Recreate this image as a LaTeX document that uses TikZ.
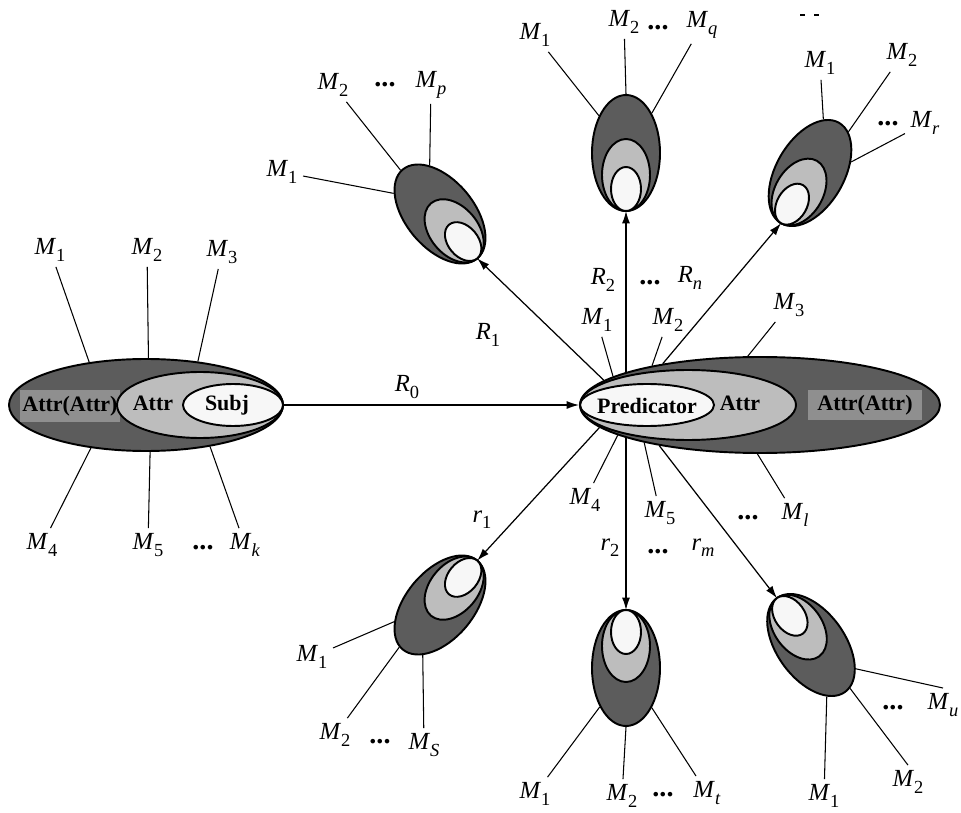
\documentclass[tikz,border=0pt]{standalone}
\usepackage{fontspec}
\setmainfont{Liberation Serif}
\usetikzlibrary{shapes,arrows.meta,positioning,calc}

\definecolor{shelldark}{gray}{0.36}
\definecolor{shelllight}{gray}{0.74}
\definecolor{shellcore}{gray}{0.97}
\definecolor{tagbox}{gray}{0.56}

\newcommand{\sublab}[2]{\textit{#1}\raisebox{-0.26em}{\fontsize{10.5}{12}\selectfont #2}}

\begin{document}
\begin{tikzpicture}[
    dark shell/.style={ellipse, draw, line width=1.1pt, fill=shelldark, inner sep=0pt},
    light shell/.style={ellipse, draw, line width=1.1pt, fill=shelllight, inner sep=0pt},
    core shell/.style={ellipse, draw, line width=1.1pt, fill=shellcore, inner sep=0pt},
    sat/.style={dark shell, minimum width=1.36cm, minimum height=2.32cm},
    sat mid/.style={light shell, minimum width=0.96cm, minimum height=1.44cm},
    sat core/.style={core shell, minimum width=0.6cm, minimum height=0.88cm},
    lbl/.style={font=\fontsize{14}{16}\selectfont, inner sep=3pt},
    gap dots/.style={font=\fontsize{16}{18}\selectfont\bfseries, inner sep=0pt},
    word/.style={font=\fontsize{12.5}{14}\selectfont\bfseries, inner sep=0pt},
    tag/.style={word, fill=tagbox, minimum width=2cm, minimum height=0.64cm},
    mline/.style={line width=0.6pt},
    rel/.style={line width=0.7pt, -{Latex[length=7pt,width=4.5pt]}}
]
    \useasboundingbox (0,0) rectangle (19.22,16.24);

    % Subject side
    \node[dark shell, minimum width=5.48cm, minimum height=1.84cm] (subj) at (2.92,8.14) {};
    \node[tag] (subj-tag) at (1.40,8.12) {Attr(Attr)};
    \node[light shell, minimum width=3.32cm, minimum height=1.32cm] (subj-attr) at (4.00,8.14) {};
    \node[core shell, minimum width=2.0cm, minimum height=0.84cm] (subj-core) at (4.66,8.14) {};
    \node[word] (subj-attr-txt) at (3.06,8.18) {Attr};
    \node[word] (subj-txt) at (4.54,8.14) {Subj};

    % Predicate side
    \node[dark shell, minimum width=7.2cm, minimum height=1.92cm] (pred) at (15.2,8.14) {};
    \node[tag, minimum width=2.28cm, minimum height=0.6cm] (pred-tag) at (17.30,8.14) {Attr(Attr)};
    \node[light shell, minimum width=4.32cm, minimum height=1.40cm] (pred-attr) at (13.76,8.14) {};
    \node[core shell, minimum width=2.68cm, minimum height=0.84cm] (pred-core) at (12.94,8.14) {};
    \node[word] (pred-attr-txt) at (14.80,8.18) {Attr};
    \node[word] (pred-txt) at (12.94,8.12) {Predicator};

    % Satellite objects
    \foreach \n/\x/\y/\r in {tl/8.80/11.96/40, tc/12.52/13.18/0, tr/16.20/12.78/-30,
                             bl/8.80/4.14/140, bc/12.52/2.88/180, br/16.22/3.34/216} {
        \begin{scope}[shift={(\x,\y)}, rotate=\r, transform shape]
            \node[sat] (\n) at (0,0) {};
            \node[sat mid] (\n-attr) at (0,-0.44) {};
            \node[sat core] (\n-core) at (0,-0.72) {};
            \coordinate (\n-tip) at (0,-1.16);
        \end{scope}
    }

    % Relations
    \draw[rel] (subj.east) -- (pred.west);
    \draw[rel] (pred.171) -- (tl-tip);
    \draw[rel] (pred.166 -| tc-tip) -- (tc-tip);
    \draw[rel] (pred.157) -- (tr-tip);
    \draw[rel] (pred.188) -- (bl-tip);
    \draw[rel] (pred.194 -| bc-tip) -- (bc-tip);
    \draw[rel] (pred.202) -- (br-tip);

    \node[lbl] (r0) at (8.14,8.50) {\sublab{R}{0}};
    \node[lbl] (rr1) at (9.76,9.54) {\sublab{R}{1}};
    \node[lbl] (rr2) at (12.06,10.64) {\sublab{R}{2}};
    \node[gap dots] (rr-dots) at (13.00,10.58) {...};
    \node[lbl] (rrn) at (13.80,10.68) {\sublab{R}{\textit{n}}};
    \node[lbl] (rl1) at (9.64,5.84) {\sublab{r}{1}};
    \node[lbl] (rl2) at (12.20,5.28) {\sublab{r}{2}};
    \node[gap dots] (rl-dots) at (13.16,5.20) {...};
    \node[lbl] (rlm) at (14.06,5.28) {\sublab{r}{\textit{m}}};

    % Modifiers of the subject
    \foreach \ang/\lx/\ly/\nm/\sub in {143/1.00/11.24/s-m1/1, 87/2.94/11.24/s-m2/2,
        40/4.44/11.20/s-m3/3, 218/0.84/5.34/s-m4/4, 275/2.96/5.34/s-m5/5,
        327/4.90/5.34/s-mk/\textit{k}} {
        \node[lbl] (\nm) at (\lx,\ly) {\sublab{M}{\sub}};
        \draw[mline] (subj.\ang) -- (\nm);
    }
    \node[gap dots] (s-dots) at (4.06,5.28) {...};

    % Modifiers of the predicate
    \foreach \ang/\lx/\ly/\nm/\sub in {169/11.94/9.84/p-m1/1, 160/13.36/9.84/p-m2/2,
        104/15.78/10.14/p-m3/3, 192/11.70/6.24/p-m4/4, 198/13.20/5.98/p-m5/5,
        267/15.90/5.94/p-ml/\textit{l}} {
        \node[lbl] (\nm) at (\lx,\ly) {\sublab{M}{\sub}};
        \draw[mline] (pred.\ang) -- (\nm);
    }
    \node[gap dots] (p-dots) at (14.96,5.88) {...};

    % Modifiers of the satellites
    \foreach \el/\ang/\lx/\ly/\nm/\sub in {
        tl/116/5.64/12.80/tl-m1/1, tl/92/6.66/14.54/tl-m2/2, tl/62/8.62/14.54/tl-mp/\textit{p},
        tc/126/10.70/15.54/tc-m1/1, tc/90/12.48/15.80/tc-m2/2, tc/57/14.04/15.74/tc-mq/\textit{q},
        tr/106/16.40/14.98/tr-m1/1, tr/77/18.04/15.14/tr-m2/2, tr/45/18.50/13.78/tr-mr/\textit{r},
        bl/60/6.24/3.10/bl-m1/1, bl/86/6.70/1.54/bl-m2/2, bl/111/8.48/1.34/bl-ms/\textit{S},
        bc/56/10.70/0.36/bc-m1/1, bc/90/12.44/0.32/bc-m2/2, bc/123/14.14/0.38/bc-mt/\textit{t},
        br/71/16.48/0.32/br-m1/1} {
        \node[lbl] (\nm) at (\lx,\ly) {\sublab{M}{\sub}};
        \draw[mline] (\el.\ang) -- (\nm);
    }
    \node[lbl] (br-m2) at (18.16,0.60) {\sublab{M}{2}};
    \draw[mline] (br.96) -- (br-m2.north);
    \node[lbl] (br-mu) at (18.86,2.14) {\sublab{M}{\textit{u}}};
    \draw[mline] (br.116) -- (br-mu.north);
    \node[gap dots] (tl-dots) at (7.70,14.54) {...};
    \node[gap dots] (tc-dots) at (13.16,15.68) {...};
    \node[gap dots] (tr-dots) at (17.76,13.76) {...};
    \node[gap dots] (bl-dots) at (7.60,1.40) {...};
    \node[gap dots] (bc-dots) at (13.26,0.34) {...};
    \node[gap dots] (br-dots) at (17.86,2.08) {...};

    % stray marks at the top edge
    \draw[mline] (16.00,15.94) -- ++(0.1,0);
    \draw[mline] (16.28,15.94) -- ++(0.1,0);
\end{tikzpicture}
\end{document}
